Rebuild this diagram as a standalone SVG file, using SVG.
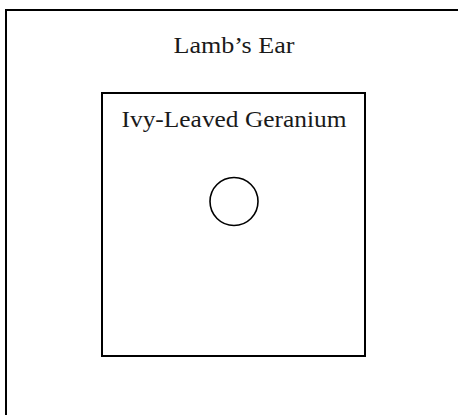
<svg xmlns="http://www.w3.org/2000/svg" width="458" height="415" viewBox="0 0 458 415">
<style>
.box{fill:none;stroke:#000;stroke-width:2}
.lbl{font-family:"Liberation Serif","Times New Roman",serif;font-size:24px;fill:#1a1a1a;text-anchor:middle}
</style>
<rect width="458" height="415" fill="#fff"/>
<g id="lambs-ear">
<rect class="box" x="6" y="10" width="462" height="415"/>
<text class="lbl" x="234" y="53" textLength="121" lengthAdjust="spacingAndGlyphs">Lamb’s Ear</text>
</g>
<g id="ivy-leaved-geranium">
<rect class="box" x="102" y="93" width="263" height="263"/>
<text class="lbl" x="234" y="127" textLength="225" lengthAdjust="spacingAndGlyphs">Ivy-Leaved Geranium</text>
</g>
<g id="circle-node">
<circle cx="234" cy="201.5" r="24" fill="none" stroke="#000" stroke-width="1.6"/>
</g>
<g id="connectors"></g>
</svg>
